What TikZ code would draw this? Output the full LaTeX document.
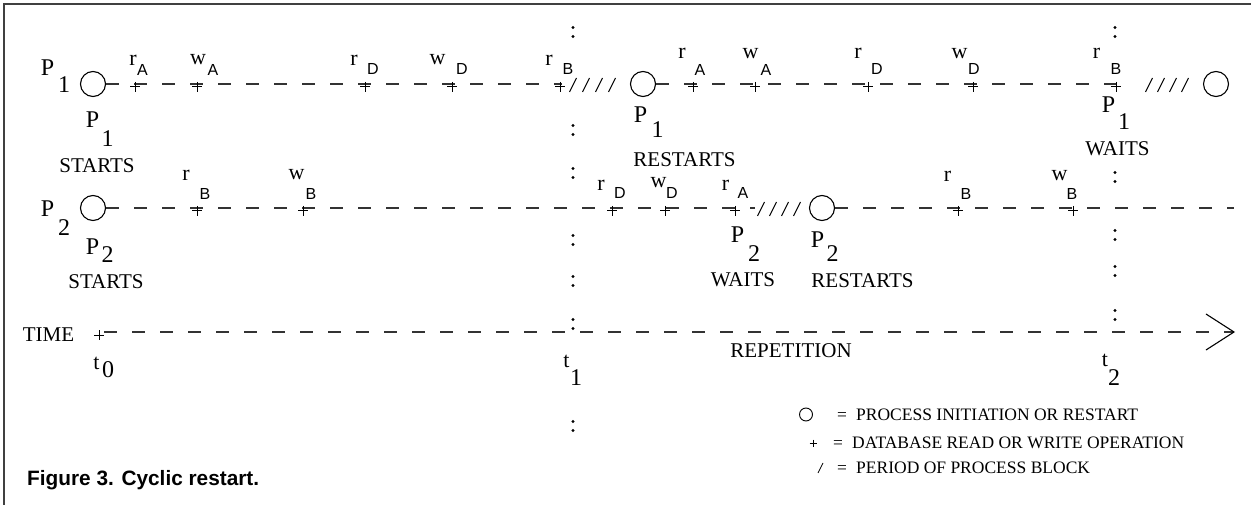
\documentclass[tikz,border=0pt]{standalone}
\usepackage{fontspec}
\setmainfont{Liberation Serif}
\newfontfamily\arialfont{Liberation Sans}
\usetikzlibrary{arrows.meta}

\tikzset{
  glyph/.style={inner sep=0pt, font=\fontsize{24}{24}\selectfont},
  opletter/.style={inner sep=0pt, font=\fontsize{22}{22}\selectfont},
  opsub/.style={inner sep=0pt, font=\arialfont\fontsize{16}{16}\selectfont},
  caps/.style={inner sep=0pt, font=\fontsize{21}{21}\selectfont},
  legendtext/.style={inner sep=0pt, anchor=base west, font=\fontsize{17.5}{17.5}\selectfont},
  event/.style={circle, draw, line width=1.1pt, minimum size=25pt, inner sep=0pt},
  timeline/.style={line width=1.1pt, black!80, dash pattern=on 13pt off 15pt},
  blockmark/.style={line width=1pt},
  plusmark/.pic={\draw[line width=1pt] (-5,0) -- (5,0) (0,-5) -- (0,5);},
  smallplus/.pic={\draw[line width=0.8pt] (-3.5,0) -- (3.5,0) (0,-3.5) -- (0,3.5);},
  dotmark/.pic={\fill (0,-4.5) circle (1.6) (0,4.5) circle (1.6);},
}

\begin{document}
\begin{tikzpicture}[x=1pt,y=-1pt]
\useasboundingbox (0,0) rectangle (1251,505);

% frame (left and top only)
\draw[line width=1.5pt, black!75] (4,505) -- (4,4) -- (1251,4);

% ---------------- process P1 ----------------
\node[glyph] (p1name) at (47.5,67.5) {P};
\node[glyph] (p1namesub) at (64,85) {1};
\node[event] (c1) at (93,84) {};
\node[event] (c2) at (643,84) {};
\node[event] (c3) at (1216,84) {};
\coordinate (p1block) at (562,84);
\coordinate (p1wait) at (1120,84);
\draw[timeline] (c1.east) -- (p1block);
\draw[timeline] (c2.east) -- (p1wait);

\node[opletter] (a1r) at (133,60) {r};   \node[opsub] (a1rs) at (142.5,70) {A};
\node[opletter] (a1w) at (198,60) {w};   \node[opsub] (a1ws) at (213,70) {A};
\node[opletter] (d1r) at (354,60) {r};   \node[opsub] (d1rs) at (373,69) {D};
\node[opletter] (d1w) at (437.5,60) {w}; \node[opsub] (d1ws) at (462,69) {D};
\node[opletter] (b1r) at (549,60) {r};   \node[opsub] (b1rs) at (568,69) {B};

\node[opletter] (a2r) at (682,53.5) {r};    \node[opsub] (a2rs) at (700,70) {A};
\node[opletter] (a2w) at (750.5,53.5) {w};  \node[opsub] (a2ws) at (766,70) {A};
\node[opletter] (d2r) at (858,53.5) {r};    \node[opsub] (d2rs) at (877,69) {D};
\node[opletter] (d2w) at (959.5,53.5) {w};  \node[opsub] (d2ws) at (974,69) {D};
\node[opletter] (b2r) at (1096.5,53.5) {r}; \node[opsub] (b2rs) at (1116,69) {B};

\foreach \x in {135,197,365,452,560,693,755,868,973,1116}
  \pic at (\x,87) {plusmark};
\foreach \x in {573,586,599,612,1149,1161,1173,1185}
  \draw[blockmark] (\x-3.5,92) -- (\x+3.5,78);

\node[glyph] (p1s) at (92.5,120) {P};    \node[glyph] (p1ssub) at (107.5,138.5) {1};
\node[caps] (p1start) at (97,166) {STARTS};
\node[glyph] (p1r) at (640.5,114.5) {P}; \node[glyph] (p1rsub) at (657.5,129.5) {1};
\node[caps] (p1restart) at (684.5,160) {RESTARTS};
\node[glyph] (p1w) at (1108.5,105) {P};  \node[glyph] (p1wsub) at (1124,121.5) {1};
\node[caps] (p1waits) at (1117.5,148.5) {WAITS};

% ---------------- process P2 ----------------
\node[glyph] (p2name) at (47.5,208.5) {P};
\node[glyph] (p2namesub) at (64,227.5) {2};
\node[event] (c4) at (93,208) {};
\node[event] (c5) at (822,208) {};
\coordinate (p2block) at (755,208);
\coordinate (p2end) at (1234,208);
\draw[timeline] (c4.east) -- (p2block);
\draw[timeline] (c5.east) -- (p2end);

\node[opletter] (b3r) at (186,175) {r};     \node[opsub] (b3rs) at (205,194) {B};
\node[opletter] (b3w) at (296.5,175) {w};   \node[opsub] (b3ws) at (311,194) {B};
\node[opletter] (d3r) at (601,185) {r};     \node[opsub] (d3rs) at (620,192.5) {D};
\node[opletter] (d3w) at (658.5,182.5) {w}; \node[opsub] (d3ws) at (672,192.5) {D};
\node[opletter] (a3r) at (725.5,185) {r};   \node[opsub] (a3rs) at (743,192.5) {A};
\node[opletter] (b4r) at (947.5,176) {r};   \node[opsub] (b4rs) at (966,194) {B};
\node[opletter] (b4w) at (1059.5,176) {w};  \node[opsub] (b4ws) at (1072,194) {B};

\foreach \x in {197,303,612,665,735,958,1073}
  \pic at (\x,211) {plusmark};
\foreach \x in {761,773,785,797}
  \draw[blockmark] (\x-3.5,216) -- (\x+3.5,202);

\node[glyph] (p2s) at (92.5,246.5) {P};   \node[glyph] (p2ssub) at (107.5,254.5) {2};
\node[caps] (p2start) at (106,281.5) {STARTS};
\node[glyph] (p2w) at (737.5,235) {P};    \node[glyph] (p2wsub) at (754,253.5) {2};
\node[caps] (p2waits) at (743,280) {WAITS};
\node[glyph] (p2r) at (817.5,240) {P};    \node[glyph] (p2rsub) at (832.5,253.5) {2};
\node[caps] (p2restart) at (862.5,280.5) {RESTARTS};

% ---------------- time axis ----------------
\node[caps] (time) at (48.5,334.5) {TIME};
\pic at (99,335) {plusmark};
\coordinate (tstart) at (104,332);
\coordinate (tend) at (1235,332);
\draw[timeline, -{Straight Barb[length=28pt,width=36pt,line width=1.1pt,black]}] (tstart) -- (tend);

\node[opletter] (t0) at (96.5,363.5) {t};  \node[glyph] (t0sub) at (108,369.5) {0};
\node[opletter] (t1) at (566.5,361.5) {t}; \node[glyph] (t1sub) at (576,377.5) {1};
\node[opletter] (t2) at (1105,360) {t};    \node[glyph] (t2sub) at (1114,378) {2};
\node[caps] (repetition) at (791,350.5) {REPETITION};

% dotted markers of t1 and t2
\foreach \y in {32,130,173,240,281,324,426}
  \pic at (573,\y) {dotmark};
\foreach \y in {32,177,235,271,315}
  \pic at (1115,\y) {dotmark};

% ---------------- legend ----------------
\node[event, minimum size=13pt, line width=0.9pt] (legcircle) at (806,414.5) {};
\pic at (813,443) {smallplus};
\draw[line width=0.8pt] (818,473) -- (823,463);
\node[legendtext, anchor=base] (eq1) at (842,420) {=};
\node[legendtext, anchor=base] (eq2) at (838,448) {=};
\node[legendtext, anchor=base] (eq3) at (842,473) {=};
\node[legendtext] (leg1) at (856,420) {PROCESS INITIATION OR RESTART};
\node[legendtext] (leg2) at (852,448) {DATABASE READ OR WRITE OPERATION};
\node[legendtext] (leg3) at (856,473) {PERIOD OF PROCESS BLOCK};

% caption
\node[inner sep=0pt, anchor=base west, font=\arialfont\bfseries\fontsize{20.8}{20.8}\selectfont] (caption) at (27,485) {Figure 3. Cyclic restart.};
\end{tikzpicture}
\end{document}
